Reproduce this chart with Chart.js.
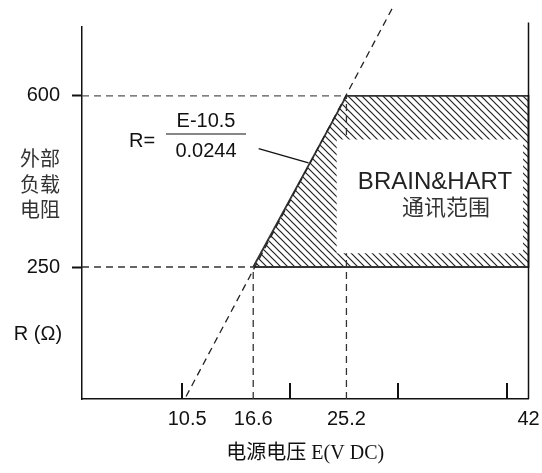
<!DOCTYPE html>
<html>
<head>
<meta charset="utf-8">
<script src="https://cdn.jsdelivr.net/npm/chart.js@4.4.1/dist/chart.umd.min.js"></script>
<style>
  html, body { margin: 0; padding: 0; background: #fff; }
  #wrap { width: 542px; height: 473px; }
</style>
</head>
<body>
<div id="wrap"><canvas id="chart" width="542" height="473"></canvas></div>
<script>
// supply voltage E (V DC) vs load resistance R (ohm)
const voltTicks = [10.5, 16.6, 25.2, 42];
const resTicks = [250, 600];
const markTicks = [10, 20, 30, 40];

// load line R = (E-10.5)/0.0244, read at both ends
const loadE = [10.4, 29.4];
const loadR = [-15, 778];

// hatched BRAIN&HART zone
const zoneE = [16.6, 25.2, 42, 42, 16.6];
const zoneR = [250, 600, 600, 250, 250];

// white label box inside the zone
const boxE = [24.3, 41.5, 41.5, 24.3, 24.3];
const boxR = [511, 511, 278, 278, 511];

// dashed guide lines
const g600E = [0.8, 25.2], g600R = [600, 600];
const g250E = [0.8, 16.6], g250R = [250, 250];
const v166E = [16.6, 16.6], v166R = [-20, 250];
const v252E = [25.2, 25.2], v252R = [-20, 600];

// right border and formula leader
const rightE = [42, 42], rightR = [750, -20];
const leadE = [17.1, 21.7], leadR = [492, 463];

const pts = (xs, ys) => xs.map((x, i) => ({ x: x, y: ys[i] }));

const canvas = document.getElementById('chart');
const ctx = canvas.getContext('2d');

function hatch() {
  const s = 7;
  const c = document.createElement('canvas');
  c.width = s; c.height = s;
  const g = c.getContext('2d');
  g.strokeStyle = '#222';
  g.lineWidth = 1.2;
  g.beginPath();
  g.moveTo(-1, -1); g.lineTo(s + 1, s + 1);
  g.moveTo(s - 1, -1); g.lineTo(s + 1, 1);
  g.moveTo(-1, s - 1); g.lineTo(1, s + 1);
  g.stroke();
  return ctx.createPattern(c, 'repeat');
}

const dash = [7, 5];
const line = (data, opts) => Object.assign({
  data: data, showLine: true, pointRadius: 0, fill: false,
  borderColor: '#333', borderWidth: 1.3, clip: false
}, opts);

const tickFont = { family: 'Liberation Sans, Arial, sans-serif', size: 20 };

const overlay = {
  id: 'overlay',
  afterDraw(chart) {
    const c = chart.ctx, x = chart.scales.x, y = chart.scales.y;
    c.save();
    // inward tick marks on the voltage axis
    c.strokeStyle = '#111';
    c.lineWidth = 2;
    markTicks.forEach(v => {
      const px = Math.round(x.getPixelForValue(v));
      c.beginPath();
      c.moveTo(px, y.bottom);
      c.lineTo(px, y.bottom - 16);
      c.stroke();
    });

    c.textBaseline = 'middle';
    // y axis caption
    c.textAlign = 'center';
    c.font = '20px "Noto Sans CJK SC", sans-serif';
    c.fillStyle = '#333';
    c.fillText('外部', 40, 158);
    c.fillText('负载', 40, 184);
    c.fillText('电阻', 40, 209);
    c.fillStyle = '#111';
    c.font = '20px "Liberation Sans", Arial, sans-serif';
    c.fillText('R (Ω)', 38, 334);

    // formula
    c.textAlign = 'left';
    c.fillText('R=', 129, 141);
    c.textAlign = 'center';
    c.fillText('E-10.5', 206, 121);
    c.fillText('0.0244', 206, 151);
    c.lineWidth = 1.2;
    c.beginPath();
    c.moveTo(166, 134);
    c.lineTo(246, 134);
    c.stroke();

    // zone label
    c.font = '24px "Liberation Sans", Arial, sans-serif';
    c.fillStyle = '#222';
    c.fillText('BRAIN&HART', 435, 182);
    c.font = '22px "Noto Sans CJK SC", sans-serif';
    c.fillStyle = '#333';
    c.fillText('通讯范围', 446, 207);
    c.restore();
  }
};

new Chart(ctx, {
  type: 'scatter',
  data: {
    datasets: [
      line(pts(leadE, leadR), { borderColor: '#111', order: 1 }),
      line(pts(rightE, rightR), { borderColor: '#111', borderWidth: 1.5, order: 1 }),
      line(pts(loadE, loadR), { borderDash: dash, borderColor: '#222', order: 2 }),
      line(pts(g600E, g600R), { borderDash: dash, borderColor: '#555', order: 2 }),
      line(pts(g250E, g250R), { borderDash: dash, borderColor: '#333', order: 2 }),
      line(pts(v166E, v166R), { borderDash: dash, borderColor: '#333', order: 2 }),
      line(pts(boxE, boxR), { fill: 'shape', backgroundColor: '#fff', borderWidth: 0, borderColor: '#fff', order: 3 }),
      line(pts(v252E, v252R), { borderDash: dash, borderColor: '#333', order: 4 }),
      line(pts(zoneE, zoneR), { fill: 'shape', backgroundColor: hatch(), borderColor: '#333', borderWidth: 1.8, order: 5 })
    ]
  },
  options: {
    responsive: false,
    animation: false,
    devicePixelRatio: 1,
    layout: { padding: { left: 0, right: 13.5, top: 27, bottom: 0 } },
    plugins: { legend: { display: false }, tooltip: { enabled: false } },
    scales: {
      x: {
        type: 'linear', min: 0.8, max: 42,
        afterBuildTicks: s => { s.ticks = voltTicks.map(v => ({ value: v })); },
        afterFit: s => { s.height = 74; },
        ticks: { autoSkip: false, maxRotation: 0, padding: 0, color: '#111', font: tickFont, callback: v => String(v) },
        grid: { display: false },
        border: { display: true, color: '#111', width: 1.5 },
        title: {
          display: true, text: '电源电压 E(V DC)', color: '#111',
          font: { family: '"Liberation Serif", "Noto Sans CJK SC", serif', size: 20 },
          padding: { top: 0, bottom: 7 }
        }
      },
      y: {
        type: 'linear', min: -20, max: 741,
        afterBuildTicks: s => { s.ticks = resTicks.map(v => ({ value: v })); },
        afterFit: s => { s.width = 82; },
        ticks: { padding: 12, color: '#111', font: tickFont, callback: v => String(v) },
        grid: { display: true, drawOnChartArea: false, drawTicks: true, tickLength: 10, tickWidth: 2, tickColor: '#111' },
        border: { display: true, color: '#111', width: 1.5 }
      }
    }
  },
  plugins: [overlay]
});
</script>
</body>
</html>
